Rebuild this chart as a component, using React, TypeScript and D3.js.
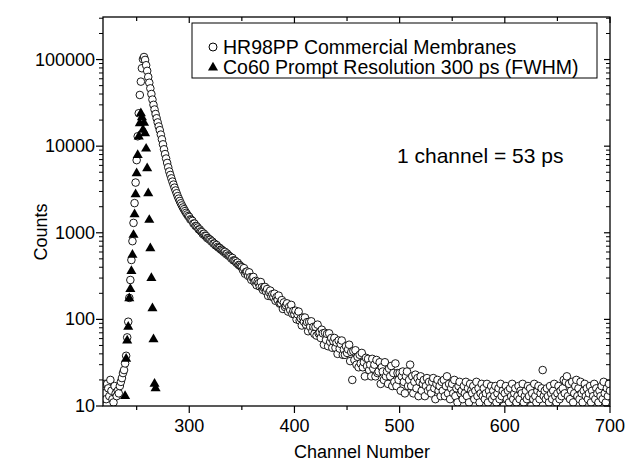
import React from "react";
import * as d3 from "d3";

// HR98PP lifetime spectrum, one value per channel starting at channel 218
const hrStartChannel = 218;
const hrBackground = [12, 14, 18, 12, 18, 16, 13, 20, 15, 12, 11, 17, 14, 13, 15, 14, 17, 19, 21, 24, 26, 31, 38]; // 218-240
const hrRise = [62, 94, 177, 285, 485, 800, 1300, 2200, 3800, 6900, 13000, 24000, 39000, 55600, 79400, 101000]; // 241-256
const hrPeakDecay = [
  107000, 99000, 86000, 74000, 63000, 54000, 46500, 40000, 34500, 30000, 26500, 23500, 21000, 18800, 16900,
  15300, 13600, 12000, 10500, 9200, 8100, 7200, 6400, 5700, 5100, 4650, 4250, 3900, 3600, 3320, 3080, 2860,
  2650, 2480, 2330, 2190, 2070, 1960, 1870, 1780, 1700, 1630, 1560,
]; // 257-299
const hrMid = [
  1520, 1430, 1405, 1370, 1280, 1275, 1200, 1190, 1150, 1095, 1090, 1040, 1020, 965, 975, 925, 918, 870, 865,
  838, 830, 795, 790, 752, 748, 715, 722, 688, 672, 668, 640, 636, 618, 598, 602, 570, 575, 548, 540, 528,
  505, 512, 480, 478, 470, 448, 452, 425, 422, 408,
]; // 300-349
const hrSlow = [
  401, 372, 391, 337, 354, 357, 318, 349, 307, 286,
  305, 309, 270, 278, 248, 273, 262, 240, 270, 235,
  219, 231, 237, 210, 224, 187, 205, 215, 184, 195,
  181, 198, 164, 181, 168, 188, 152, 154, 167, 132,
  157, 139, 145, 153, 123, 140, 128, 147, 116, 125,
  114, 126, 100, 114, 123, 97, 103, 85, 105, 94,
  105, 87, 93, 73, 94, 82, 95, 73, 82, 68,
  82, 65, 87, 69, 71, 61, 76, 69, 51, 70,
  58, 68, 49, 69, 55, 61, 47, 56, 61, 47,
  54, 40, 57, 46, 52, 57, 39, 45, 39, 49,
]; // 350-449
const hrTail = [
  41, 45, 51, 33, 42, 20, 43, 34, 44, 30,
  37, 28, 39, 31, 41, 28, 32, 22, 36, 29,
  35, 26, 30, 22, 35, 27, 30, 22, 34, 24,
  25, 32, 18, 28, 25, 20, 32, 22, 25, 18,
  27, 22, 29, 17, 24, 19, 31, 17, 24, 20,
  24, 15, 22, 25, 19, 14, 22, 25, 17, 20,
  30, 17, 22, 14, 19, 23, 16, 21, 13, 19,
  22, 15, 18, 20, 13, 17, 21, 15, 19, 16,
  14, 19, 21, 16, 12, 18, 20, 15, 17, 13,
  19, 15, 20, 13, 17, 22, 14, 18, 12, 16,
  18, 14, 20, 13, 16, 11, 17, 19, 14, 15,
  12, 17, 14, 19, 13, 16, 11, 18, 15, 14,
  17, 12, 15, 19, 13, 16, 11, 14, 18, 13,
  16, 12, 14, 18, 11, 15, 13, 17, 12, 15,
  13, 17, 11, 14, 16, 12, 18, 13, 15, 10,
  14, 17, 12, 15, 11, 16, 13, 18, 12, 14,
  16, 11, 13, 17, 12, 15, 14, 18, 11, 13,
  15, 12, 17, 13, 16, 10, 14, 12, 18, 13,
  11, 15, 17, 12, 14, 16, 26, 13, 15, 12,
  16, 13, 11, 17, 14, 12, 15, 18, 13, 11,
  14, 17, 12, 15, 13, 16, 20, 14, 19, 22,
  13, 18, 12, 15, 19, 11, 14, 17, 20, 13,
  16, 12, 19, 14, 11, 15, 18, 13, 16, 12,
  14, 17, 11, 15, 13, 18, 12, 16, 14, 11,
  15, 13, 17, 12, 19, 14, 11, 16, 13, 18,
  15,
]; // 450-700

// Co60 prompt resolution function, channels 239-268
const promptStartChannel = 239;
const promptCounts = [
  13, 35, 57, 82, 175, 224, 362, 555, 944, 1637, 2786, 4864, 7900, 12900, 18400, 24000, 21500, 15400, 18600,
  14100, 9350, 5560, 2860, 1406, 662, 299, 134, 59, 18, 16,
];

const xMajorTicks = [300, 400, 500, 600, 700];
const xMinorTicks = [250, 350, 450, 550, 650];
const yMajorTicks = [10, 100, 1000, 10000, 100000];

const legendLabels = ["HR98PP Commercial Membranes", "Co60 Prompt Resolution 300 ps (FWHM)"];

const FONT = "'Liberation Sans', Arial, Helvetica, sans-serif";

export default function App() {
  const width = 628;
  const height = 463;
  const margin = { top: 17, right: 18, bottom: 57, left: 103 };
  const x0 = margin.left;
  const x1 = width - margin.right;
  const y0 = height - margin.bottom;
  const y1 = margin.top;

  const x = d3.scaleLinear().domain([218, 700]).range([x0, x1]);
  const y = d3.scaleLog().domain([10, 310000]).range([y0, y1]);

  const hrCounts = [...hrBackground, ...hrRise, ...hrPeakDecay, ...hrMid, ...hrSlow, ...hrTail];
  const hrData = hrCounts.map((v, i) => ({ ch: hrStartChannel + i, v }));
  const promptData = promptCounts.map((v, i) => ({ ch: promptStartChannel + i, v }));

  const yMinorTicks = y.ticks().filter((t) => !yMajorTicks.includes(t) && t > 10);
  // minor ticks for the top decade (above 100000)
  [200000, 300000].forEach((t) => {
    if (!yMinorTicks.includes(t) && t <= 310000) yMinorTicks.push(t);
  });

  const triangle = d3.symbol().type(d3.symbolTriangle).size(44)();
  const legendTriangle = d3.symbol().type(d3.symbolTriangle).size(44)();

  return (
    <svg
      width={width}
      height={height}
      style={{ position: "absolute", left: 0, top: 0, background: "#fff" }}
      fontFamily={FONT}
    >
      <defs>
        <clipPath id="plotClip">
          <rect x={x0} y={y1} width={x1 - x0} height={y0 - y1} />
        </clipPath>
      </defs>

      {/* data */}
      <g clipPath="url(#plotClip)">
        {hrData.map((d) => (
          <circle key={"c" + d.ch} cx={x(d.ch)} cy={y(d.v)} r={3.8} fill="#fff" stroke="#000" strokeWidth={0.9} />
        ))}
        {promptData.map((d) => (
          <path key={"t" + d.ch} d={triangle} transform={`translate(${x(d.ch)},${y(d.v)})`} fill="#000" />
        ))}
      </g>

      {/* frame */}
      <rect x={x0} y={y1} width={x1 - x0} height={y0 - y1} fill="none" stroke="#000" strokeWidth={1.3} />

      {/* x ticks: bottom outward, top inward */}
      {xMajorTicks.map((t) => (
        <g key={"xm" + t}>
          <line x1={x(t)} x2={x(t)} y1={y0} y2={y0 + 7} stroke="#000" strokeWidth={1.2} />
          <line x1={x(t)} x2={x(t)} y1={y1} y2={y1 + 6} stroke="#000" strokeWidth={1.2} />
          <text x={x(t)} y={y0 + 26} textAnchor="middle" fontSize={18}>
            {t}
          </text>
        </g>
      ))}
      {xMinorTicks.map((t) => (
        <g key={"xn" + t}>
          <line x1={x(t)} x2={x(t)} y1={y0} y2={y0 + 4} stroke="#000" strokeWidth={1.2} />
          <line x1={x(t)} x2={x(t)} y1={y1} y2={y1 + 4} stroke="#000" strokeWidth={1.2} />
        </g>
      ))}

      {/* y ticks: left outward, right inward */}
      {yMajorTicks.map((t) => (
        <g key={"ym" + t}>
          <line x1={x0 - 7} x2={x0} y1={y(t)} y2={y(t)} stroke="#000" strokeWidth={1.2} />
          <line x1={x1 - 6} x2={x1} y1={y(t)} y2={y(t)} stroke="#000" strokeWidth={1.2} />
          <text x={x0 - 8} y={y(t) + 6} textAnchor="end" fontSize={18}>
            {t}
          </text>
        </g>
      ))}
      {yMinorTicks.map((t) => (
        <g key={"yn" + t}>
          <line x1={x0 - 4} x2={x0} y1={y(t)} y2={y(t)} stroke="#000" strokeWidth={1} />
          <line x1={x1 - 4} x2={x1} y1={y(t)} y2={y(t)} stroke="#000" strokeWidth={1} />
        </g>
      ))}

      {/* axis titles */}
      <text x={362} y={458} textAnchor="middle" fontSize={18}>
        Channel Number
      </text>
      <text transform="translate(47,232) rotate(-90)" textAnchor="middle" fontSize={18}>
        Counts
      </text>

      {/* annotation */}
      <text x={397} y={163} fontSize={21}>
        1 channel = 53 ps
      </text>

      {/* legend */}
      <g>
        <rect x={192} y={23} width={405} height={55} fill="#fff" stroke="#000" strokeWidth={1} />
        <circle cx={213} cy={47} r={4} fill="#fff" stroke="#000" strokeWidth={1} />
        <text x={223} y={53.5} fontSize={19.5}>
          {legendLabels[0]}
        </text>
        <path d={legendTriangle} transform="translate(213,67.5)" fill="#000" />
        <text x={223} y={73.5} fontSize={19.5}>
          {legendLabels[1]}
        </text>
      </g>
    </svg>
  );
}
